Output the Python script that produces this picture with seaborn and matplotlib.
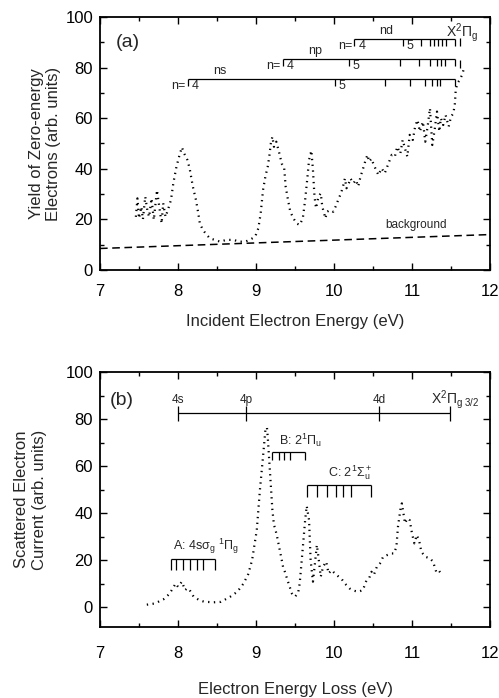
import matplotlib
matplotlib.use("Agg")
import matplotlib.pyplot as plt
from matplotlib.ticker import MultipleLocator
import seaborn as sns

# ---- panel (a): zero-energy electron yield ----
energy_a = [7.46, 7.48, 7.50, 7.53, 7.55, 7.58, 7.61, 7.63, 7.66, 7.69, 7.73, 7.76, 7.79, 7.81,
            7.84, 7.87, 7.91, 7.94, 7.98, 8.02, 8.05, 8.08, 8.12, 8.15, 8.19, 8.23, 8.26, 8.28,
            8.32, 8.37, 8.41, 8.47, 8.54, 8.62, 8.71, 8.79, 8.86, 8.92, 8.99, 9.03, 9.06, 9.09,
            9.12, 9.15, 9.17, 9.19, 9.21, 9.23, 9.26, 9.30, 9.33, 9.36, 9.38, 9.41, 9.44, 9.48,
            9.52, 9.56, 9.60, 9.63, 9.66, 9.68, 9.71, 9.73, 9.75, 9.77, 9.80, 9.83, 9.85, 9.89,
            9.91, 9.95, 9.99, 10.03, 10.06, 10.09, 10.12, 10.14, 10.16, 10.19, 10.21, 10.25,
            10.28, 10.31, 10.34, 10.38, 10.41, 10.43, 10.45, 10.48, 10.51, 10.54, 10.57, 10.61,
            10.65, 10.70, 10.74, 10.78, 10.81, 10.85, 10.88, 10.91, 10.94, 10.97, 11.01, 11.04,
            11.07, 11.10, 11.14, 11.17, 11.20, 11.23, 11.26, 11.29, 11.32, 11.35, 11.37, 11.40,
            11.43, 11.47, 11.50, 11.53, 11.55, 11.56, 11.58, 11.61, 11.64, 11.66]
yield_a = [21, 28.3, 20.4, 25, 20, 29, 23, 21, 28.3, 19.8, 31.6, 25, 18.4, 26.4,
           21, 23.7, 27.7, 34.3, 40.8, 45.5, 48.5, 46, 43.5, 40, 33, 27.7, 22.4, 18.4,
           15.8, 13.8, 12.5, 11.9, 11.2, 11.9, 11.9, 11.2, 11.2, 11.9, 13.2, 16.5, 22.4, 31.6,
           36.9, 40.8, 44.8, 50, 52.7, 48.7, 50.7, 46, 42, 40.8, 33, 27.7, 23, 20.4,
           18.4, 17.8, 20.4, 27.7, 36.9, 43.5, 47.2, 39.5, 29, 24.4, 29, 30.3, 25, 20.4,
           23, 23.7, 23, 25.7, 28.3, 30.3, 33.6, 36.2, 32.3, 34.3, 36.2, 34.3,
           35.6, 33, 36.9, 40.8, 44, 45.5, 42.8, 44, 41.5, 39.5, 37.5, 40.2,
           38.2, 42.2, 45.5, 44.8, 48.7, 46, 51.4, 48, 44.8, 53.4, 51.4, 56.7,
           59.3, 54.7, 58.6, 50.7, 56.7, 63.9, 49.4, 55.3, 62.6, 54.7, 60, 57.3,
           61.3, 56.7, 60.6, 61.9, 65.9, 71, 73.8, 75, 77, 79]
background_x = [7.0, 12.0]
background_y = [8.5, 14.0]

# Rydberg series limits (eV)
ns_levels = [8.13, 10.01, 10.65, 10.97, 11.17, 11.25, 11.32, 11.36, 11.55]
np_levels = [9.34, 10.19, 10.85, 11.09, 11.23, 11.32, 11.37, 11.42, 11.55]
nd_levels = [10.26, 10.88, 11.11, 11.23, 11.28, 11.33, 11.38, 11.43, 11.55]
ip_a = 11.62

# ---- panel (b): electron energy loss ----
energy_b = [7.60, 7.70, 7.81, 7.87, 7.92, 7.97, 8.00, 8.05, 8.09, 8.12, 8.15, 8.20, 8.27,
            8.33, 8.45, 8.55, 8.67, 8.76, 8.84, 8.90, 8.95, 9.01, 9.05, 9.09, 9.12, 9.14,
            9.15, 9.18, 9.21, 9.23, 9.25, 9.27, 9.30, 9.33, 9.35, 9.37, 9.41, 9.46, 9.50,
            9.54, 9.56, 9.59, 9.63, 9.65, 9.68, 9.70, 9.73, 9.76, 9.78, 9.80, 9.83, 9.86,
            9.90, 9.93, 9.97, 10.01, 10.06, 10.10, 10.14, 10.20, 10.25, 10.31, 10.37, 10.41,
            10.45, 10.48, 10.51, 10.55, 10.59, 10.63, 10.68, 10.73, 10.77, 10.80, 10.82,
            10.85, 10.87, 10.89, 10.91, 10.94, 10.97, 11.00, 11.03, 11.06, 11.09, 11.12,
            11.17, 11.23, 11.27, 11.31, 11.34, 11.37, 11.40]
current_b = [1.0, 1.5, 3.2, 5, 7.2, 10, 8.6, 10.8, 7.2, 8, 7.2, 4.4, 3,
             2.3, 2, 2.2, 4.4, 6.5, 10, 14, 20, 32.8, 49.8, 64, 75.3, 76.5,
             72.5, 57, 41.3, 35, 32.8, 30, 25, 20, 16.5, 15, 10.8, 5.8, 4.4,
             6, 10, 21.4, 37, 43, 37, 20, 10.8, 20, 26.4, 21.4, 12.9, 17.2,
             19.3, 14.3, 15.7, 14.3, 12.9, 11.8, 10, 7.9, 7, 6.5, 7.2, 10.8,
             12.2, 15, 13.6, 17.2, 18.6, 21.4, 22.1, 22.8, 22.8, 25.7, 34.2,
             41.3, 44.1, 39.9, 35.6, 37.7, 37, 31.3, 27.1, 30.6, 28.5, 23.5,
             21.4, 20.7, 19.3, 15, 15.7, 14.3, 15]

top_levels = [8.0, 8.87, 10.58, 11.49]
top_names = ["4s", "4p", "4d"]
a_levels = [7.91, 7.98, 8.07, 8.15, 8.24, 8.32]
b_levels = [9.20, 9.29, 9.36, 9.44]
c_levels = [9.65, 9.78, 9.91, 10.02, 10.12, 10.22]

sns.set_style("ticks")
plt.rcParams["font.family"] = ["Liberation Sans", "DejaVu Sans"]
plt.rcParams["mathtext.fontset"] = "custom"
plt.rcParams["mathtext.rm"] = "Liberation Sans"
plt.rcParams["mathtext.it"] = "Liberation Sans"
plt.rcParams["mathtext.bf"] = "Liberation Sans:bold"

fig = plt.figure(figsize=(4.99, 6.98), dpi=100)
ax_a = fig.add_axes([0.2004, 0.6132, 0.7816, 0.3625])
ax_b = fig.add_axes([0.2004, 0.1017, 0.7816, 0.3653])


def style_axes(ax, xpad):
    ax.xaxis.set_major_locator(MultipleLocator(1))
    ax.xaxis.set_minor_locator(MultipleLocator(0.5))
    ax.yaxis.set_major_locator(MultipleLocator(20))
    ax.yaxis.set_minor_locator(MultipleLocator(10))
    ax.tick_params(which="both", direction="in", top=True, right=True,
                   width=1.0, colors="k", labelsize=12)
    ax.tick_params(which="major", length=5)
    ax.tick_params(which="minor", length=3)
    ax.tick_params(axis="x", pad=xpad)
    ax.tick_params(axis="y", pad=5)
    for s in ax.spines.values():
        s.set_linewidth(1.3)
        s.set_color("k")


def bracket(ax, levels, y, drop, lw=0.9):
    ax.hlines(y, levels[0], levels[-1], color="k", lw=lw)
    ax.vlines(levels, y - drop, y, color="k", lw=lw)


dots = dict(color="k", linestyle=(0, (0.6, 2.0)), linewidth=1.6)

# ---------- (a) ----------
sns.lineplot(x=energy_a, y=yield_a, ax=ax_a, sort=False, estimator=None, **dots)
sns.lineplot(x=background_x, y=background_y, ax=ax_a, color="k",
             linestyle=(0, (5, 3)), linewidth=1.1)
ax_a.set_xlim(7, 12)
ax_a.set_ylim(0, 100)
style_axes(ax_a, 10)
ax_a.set_xlabel("Incident Electron Energy (eV)", fontsize=12)
ax_a.set_ylabel("Yield of Zero-energy\nElectrons (arb. units)", fontsize=12, linespacing=1.15)
ax_a.xaxis.set_label_coords(0.5, -0.175)
ax_a.yaxis.set_label_coords(-0.10, 0.5)

ax_a.text(7.2, 90, "(a)", fontsize=14, va="center", ha="left")
ax_a.text(11.05, 17.8, "background", fontsize=8.5, ha="center", va="center")

series = [("ns", ns_levels, 75.5, 8.54), ("np", np_levels, 83.4, 9.76), ("nd", nd_levels, 91.3, 10.67)]
for name, lev, y, xc in series:
    bracket(ax_a, lev, y, 2.6)
    ax_a.text(xc, y + 0.6, name, fontsize=9, ha="center", va="bottom")
    ax_a.text(lev[0] - 0.03, y - 2.8, "n=", fontsize=9, ha="right", va="center")
    ax_a.text(lev[0] + 0.05, y - 2.8, "4", fontsize=9, ha="left", va="center")
    ax_a.text(lev[1] + 0.05, y - 2.8, "5", fontsize=9, ha="left", va="center")
ax_a.vlines([ip_a, ip_a], [88.5, 79.8], [91.5, 83.0], color="k", lw=0.9)
ax_a.text(11.64, 94, r"X$^2\Pi_g$", fontsize=10, ha="center", va="center")

# ---------- (b) ----------
sns.lineplot(x=energy_b, y=current_b, ax=ax_b, sort=False, estimator=None, **dots)
ax_b.set_xlim(7, 12)
ax_b.set_ylim(-8.5, 100)
style_axes(ax_b, 14)
ax_b.set_xlabel("Electron Energy Loss (eV)", fontsize=12)
ax_b.set_ylabel("Scattered Electron\nCurrent (arb. units)", fontsize=12, linespacing=1.25)
ax_b.xaxis.set_label_coords(0.5, -0.215)
ax_b.yaxis.set_label_coords(-0.135, 0.5)

ax_b.text(7.13, 88, "(b)", fontsize=14, va="center", ha="left")

ax_b.hlines(82.5, top_levels[0], top_levels[-1], color="k", lw=0.9)
ax_b.vlines(top_levels, 79, 85.5, color="k", lw=0.9)
for xv, nm in zip(top_levels, top_names):
    ax_b.text(xv, 88, nm, fontsize=8.5, ha="center", va="center")
ax_b.text(11.55, 88.5, r"X$^2\Pi_{g\ 3/2}$", fontsize=10, ha="center", va="center")

bracket(ax_b, a_levels + [8.47], 20.4, 4.7)
ax_b.text(7.94, 21.8, r"A: 4s$\sigma_g$ $^1\Pi_g$", fontsize=9, ha="left", va="bottom")

bracket(ax_b, b_levels + [9.63], 66, 3.5)
ax_b.text(9.30, 67.3, r"B: 2$^1\Pi_u$", fontsize=9, ha="left", va="bottom")

bracket(ax_b, c_levels + [10.48], 52, 5)
ax_b.text(9.92, 53.4, r"C: 2$^1\Sigma_u^+$", fontsize=9, ha="left", va="bottom")

fig.savefig("out.png", dpi=100)
